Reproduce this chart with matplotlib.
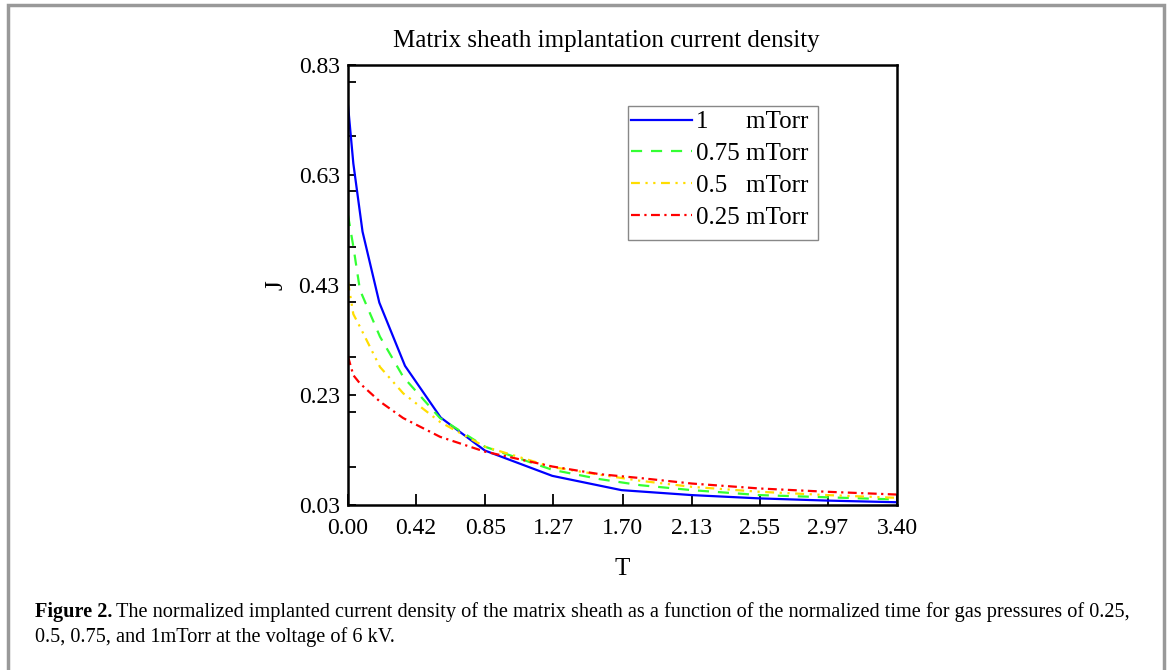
import numpy as np
import matplotlib.pyplot as plt
from matplotlib.patches import Rectangle
from matplotlib.ticker import MultipleLocator

plt.rcParams['font.family'] = ['Liberation Serif', 'DejaVu Serif']

# 1 mTorr (piecewise)
t_1 = [0.0, 0.033, 0.09, 0.194, 0.353, 0.574, 0.848, 1.265, 1.694, 2.13, 2.55, 2.97, 3.40]
j_1 = [0.757, 0.651, 0.527, 0.398, 0.283, 0.189, 0.129, 0.083, 0.057, 0.048, 0.042, 0.038, 0.035]

t_p = [0.0, 0.033, 0.074, 0.198, 0.342, 0.57, 0.848, 1.265, 1.56, 1.81, 2.13, 2.55, 2.97, 3.40]
j_075 = [0.557, 0.500, 0.421, 0.336, 0.263, 0.188, 0.136, 0.094, 0.077, 0.066, 0.057, 0.048, 0.044, 0.040]
j_05 = [0.436, 0.377, 0.354, 0.281, 0.233, 0.181, 0.136, 0.099, 0.085, 0.074, 0.063, 0.054, 0.048, 0.043]
j_025 = [0.300, 0.266, 0.251, 0.218, 0.188, 0.154, 0.127, 0.100, 0.086, 0.079, 0.069, 0.060, 0.054, 0.049]

xticks = [0.00, 0.42, 0.85, 1.27, 1.70, 2.13, 2.55, 2.97, 3.40]
yticks = [0.03, 0.23, 0.43, 0.63, 0.83]

fig = plt.figure(figsize=(11.68, 6.70), dpi=100)
ax = fig.add_axes([348/1168, 1-505/670, (897-348)/1168, (505-65)/670])

ax.plot(t_1, j_1, color='#0000ff', lw=1.6, label='1\u2008\u2007\u2007 mTorr')
ax.plot(t_p, j_075, color='#33ff33', lw=1.6, ls=(0, (5, 4)), label='0.75 mTorr')
ax.plot(t_p, j_05, color='#ffdd00', lw=1.6, ls=(0, (4, 2.5, 1, 2.5, 1, 2.5)), label='0.5\u2007 mTorr')
ax.plot(t_p, j_025, color='#ff0000', lw=1.6, ls=(0, (4, 2, 1, 2)), label='0.25 mTorr')

ax.set_xlim(0, 3.40)
ax.set_ylim(0.03, 0.83)
ax.set_xticks(xticks)
ax.set_xticklabels(['%.2f' % v for v in xticks])
ax.set_yticks(yticks)
ax.set_yticklabels(['%.2f' % v for v in yticks])
ax.yaxis.set_minor_locator(MultipleLocator(0.1))
ax.tick_params(which='both', direction='in', labelsize=17, width=1.3, length=6)
ax.tick_params(axis='x', pad=9, length=8)
ax.tick_params(axis='y', pad=6)
for s in ax.spines.values():
    s.set_linewidth(1.8)

fig.text(606/1168, 1-41/670, 'Matrix sheath implantation current density', fontsize=18,
         ha='center', va='center')
ax.set_xlabel('T', fontsize=18, labelpad=14)
ax.set_ylabel('J', fontsize=18, labelpad=8)

# legend box drawn by hand so the empty space under the last entry matches
ax.add_patch(Rectangle((0.510, 0.602), 0.346, 0.305, transform=ax.transAxes,
                       facecolor='white', edgecolor='#888888', lw=1.0, zorder=4))
leg = ax.legend(loc='upper left', bbox_to_anchor=(0.5065, 0.907), fontsize=18,
                handlelength=2.45, handletextpad=0.15, borderpad=0.2,
                labelspacing=0.37, frameon=False, borderaxespad=0)
leg.set_zorder(5)

fig.patches.append(Rectangle((8/1168, -0.05), (1164-8)/1168, 1.05 - 5/670, transform=fig.transFigure,
                             fill=False, edgecolor='#999999', lw=2.5))

cap_size = 14.6
t1 = fig.text(35/1168, 1-612/670, 'Figure 2.', fontsize=cap_size, fontweight='bold', va='center')
fig.canvas.draw()
bb = t1.get_window_extent()
fig.text((bb.x1 + 4)/1168, 1-612/670,
         'The normalized implanted current density of the matrix sheath as a function of the normalized time for gas pressures of 0.25,',
         fontsize=cap_size, va='center')
fig.text(35/1168, 1-637/670, '0.5, 0.75, and 1mTorr at the voltage of 6 kV.', fontsize=cap_size, va='center')

fig.savefig('out.png', dpi=100)
